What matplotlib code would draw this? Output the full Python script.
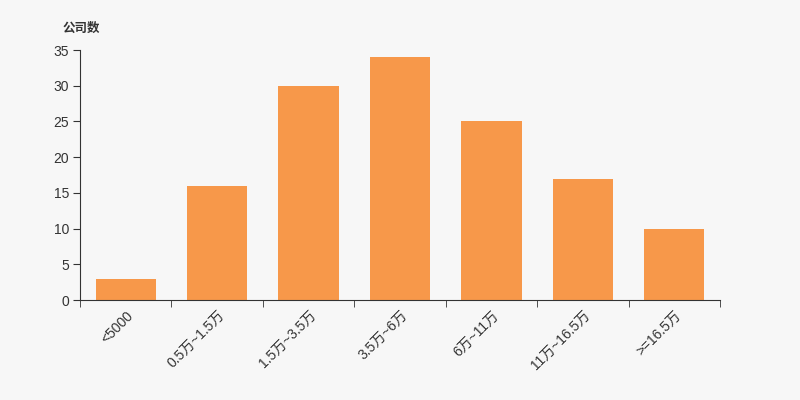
import numpy as np
import matplotlib
matplotlib.use("Agg")
import matplotlib.pyplot as plt

plt.rcParams["font.family"] = ["Liberation Sans", "Noto Sans CJK SC", "DejaVu Sans"]

categories = ["<5000", "0.5万~1.5万", "1.5万~3.5万", "3.5万~6万", "6万~11万", "11万~16.5万", ">=16.5万"]
counts = [3, 16, 30, 34, 25, 17, 10]
y_ticks = [0, 5, 10, 15, 20, 25, 30, 35]

bg = "#f7f7f7"
fig = plt.figure(figsize=(8, 4), dpi=100, facecolor=bg)
ax = fig.add_axes([0.1, 0.25, 0.8, 0.625], facecolor=bg)

x = np.arange(len(categories))
ax.bar(x, counts, width=0.66, color="#f7984a", edgecolor="none")

ax.set_xlim(-0.5, len(categories) - 0.5)
ax.set_ylim(0, 35)
ax.set_yticks(y_ticks)
ax.set_yticklabels([str(v) for v in y_ticks], fontsize=10, color="#333333")

ax.set_xticks(x)
ax.set_xticklabels(categories, rotation=45, ha="right", va="top",
                   rotation_mode="anchor", fontsize=10, color="#333333")
ax.tick_params(axis="x", which="major", length=0, pad=6)
ax.set_xticks(np.arange(len(categories) + 1) - 0.5, minor=True)
ax.tick_params(axis="x", which="minor", length=5, color="#333333")
ax.tick_params(axis="y", length=5, color="#333333", pad=3)

for s in ["top", "right"]:
    ax.spines[s].set_visible(False)
for s in ["left", "bottom"]:
    ax.spines[s].set_color("#333333")

fig.text(0.078, 0.93, "公司数", fontsize=9, fontweight="bold", color="#333333",
         ha="left", va="center", family=["Noto Sans CJK SC"])

plt.savefig("out.png", dpi=100, facecolor=bg)
